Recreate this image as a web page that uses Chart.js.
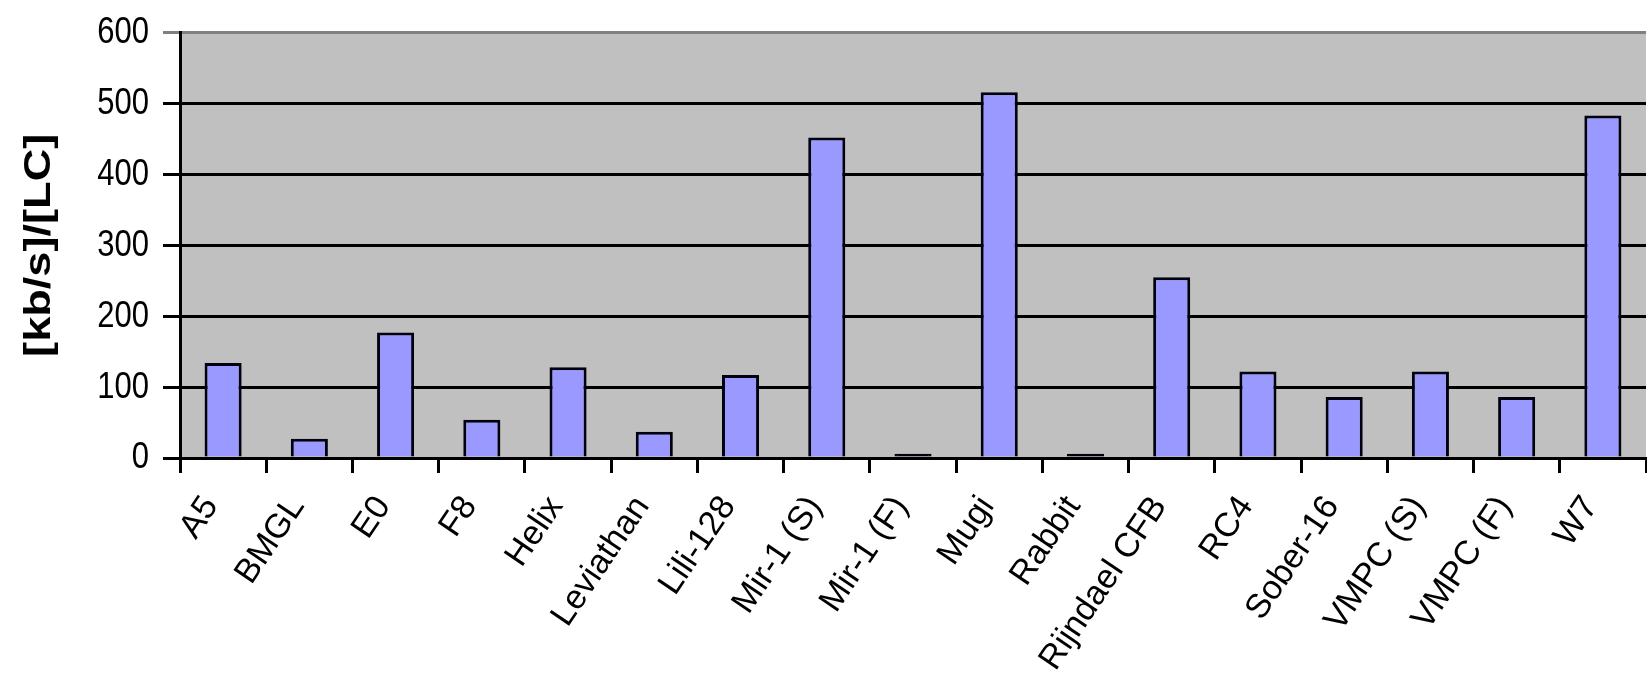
<!DOCTYPE html>
<html>
<head>
<meta charset="utf-8">
<script src="https://cdn.jsdelivr.net/npm/chart.js@4/dist/chart.umd.min.js"></script>
<style>
  html, body { margin: 0; padding: 0; background: #ffffff; }
  #wrap { width: 1647px; height: 694px; }
</style>
</head>
<body>
<div id="wrap"><canvas id="c" width="1647" height="694"></canvas></div>
<script>
// Cipher names along the x axis
const categories = ["A5", "BMGL", "E0", "F8", "Helix", "Leviathan", "Lili-128",
  "Mir-1 (S)", "Mir-1 (F)", "Mugi", "Rabbit", "Rijndael CFB", "RC4", "Sober-16",
  "VMPC (S)", "VMPC (F)", "W7"];
// Throughput per logic cell, [kb/s]/[LC]
const throughput = [134, 27, 177, 54, 128, 37, 117, 452, 6, 516, 6, 255, 122, 86, 122, 86, 483];
// Value axis
const yTicks = [0, 100, 200, 300, 400, 500, 600];
const yTitle = "[kb/s]/[LC]";

const FONT = '"Liberation Sans", Arial, Helvetica, sans-serif';
// Upright and vertical text is drawn taller than wide, like the old spreadsheet export
const TEXT_STRETCH = 1.22;

const BAR_FILL = '#9999ff';
const BAR_EDGE = '#000010';

// Grey plot-area background, plus tall text rendering
const plotBackground = {
  id: 'plotBackground',
  beforeInit(chart) {
    const ctx = chart.ctx;
    const fill = ctx.fillText.bind(ctx);
    ctx.fillText = function (text, x, y, maxWidth) {
      const m = ctx.getTransform();
      const axisAligned = Math.abs(m.b) < 1e-6 || Math.abs(m.a) < 1e-6;
      if (!axisAligned) {
        if (maxWidth === undefined) fill(text, x, y); else fill(text, x, y, maxWidth);
        return;
      }
      const px = m.a * x + m.c * y + m.e;
      const py = m.b * x + m.d * y + m.f;
      ctx.save();
      ctx.setTransform(new DOMMatrix().translate(px, py).scale(1, TEXT_STRETCH).translate(-px, -py).multiply(m));
      if (maxWidth === undefined) fill(text, x, y); else fill(text, x, y, maxWidth);
      ctx.restore();
    };
  },
  beforeDraw(chart) {
    const { ctx, chartArea: a } = chart;
    ctx.save();
    ctx.fillStyle = '#c0c0c0';
    ctx.fillRect(a.left, a.top, a.right - a.left, a.bottom - a.top);
    ctx.restore();
  }
};

new Chart(document.getElementById('c'), {
  type: 'bar',
  data: {
    labels: categories,
    datasets: [{
      data: throughput,
      // very short bars are all outline
      backgroundColor: (c) => (c.raw !== undefined && c.raw < 10 ? BAR_EDGE : BAR_FILL),
      borderColor: BAR_EDGE,
      borderWidth: 3,
      borderSkipped: 'bottom',
      barPercentage: 0.43,
      categoryPercentage: 1.0
    }]
  },
  options: {
    responsive: false,
    animation: false,
    devicePixelRatio: 1,
    layout: { padding: { top: 30, right: 1, left: 0, bottom: 0 } },
    plugins: {
      legend: { display: false },
      tooltip: { enabled: false },
      title: { display: false }
    },
    scales: {
      x: {
        offset: true,
        grid: {
          offset: true,
          drawOnChartArea: false,
          drawTicks: true,
          tickLength: 15,
          color: '#000000',
          lineWidth: 3
        },
        border: { display: true, color: '#000000', width: 3 },
        ticks: {
          autoSkip: false,
          maxRotation: 56,
          minRotation: 56,
          padding: 16,
          labelOffset: -12,
          color: '#000000',
          font: { family: FONT, size: 34 }
        },
        afterFit(scale) {
          scale.height = 236;
          // plot area runs to the right edge of the canvas
          scale.paddingLeft = 0;
          scale.paddingRight = 0;
        }
      },
      y: {
        min: 0,
        max: 600,
        afterBuildTicks(scale) { scale.ticks = yTicks.map(v => ({ value: v })); },
        grid: {
          drawTicks: true,
          tickLength: 17,
          lineWidth: 3,
          color(ctx) { return ctx.tick && ctx.tick.value === 600 ? '#808080' : '#000000'; }
        },
        border: { display: true, color: '#000000', width: 3 },
        ticks: {
          padding: 14,
          color: '#000000',
          font: { family: FONT, size: 31 }
        },
        title: {
          display: true,
          text: yTitle,
          color: '#000000',
          padding: { top: 18, bottom: 0 },
          font: { family: FONT, size: 37, weight: 'bold' }
        },
        afterFit(scale) { scale.width = 180; }
      }
    }
  },
  plugins: [plotBackground]
});
</script>
</body>
</html>
